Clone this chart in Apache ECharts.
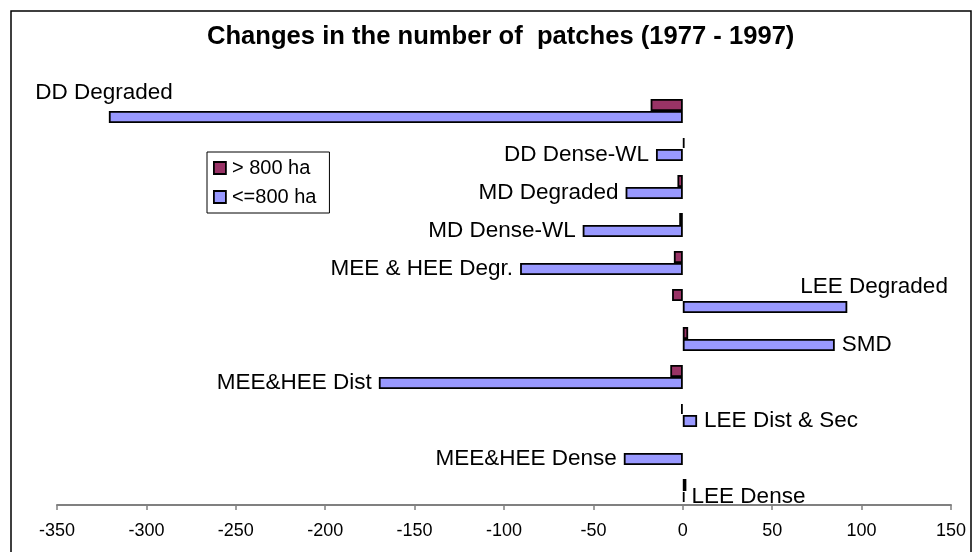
<!DOCTYPE html>
<html>
<head>
<meta charset="utf-8">
<script src="https://cdn.jsdelivr.net/npm/echarts@6/dist/echarts.min.js"></script>
<style>
  html, body { margin: 0; padding: 0; background: #fff; }
  #main { width: 977px; height: 552px; }
</style>
</head>
<body>
<div id="main"></div>
<script>
// categories from top to bottom
var categories = ['DD Degraded', 'DD Dense-WL', 'MD Degraded', 'MD Dense-WL', 'MEE & HEE Degr.',
  'LEE Degraded', 'SMD', 'MEE&HEE Dist', 'LEE Dist & Sec', 'MEE&HEE Dense', 'LEE Dense'];
var over800 = [-18, 1, -3, -2, -5, -6, 3, -7, -1, null, 2];
var under800 = [-321, -15, -32, -56, -91, 92, 85, -170, 8, -33, 1];
var xTicks = [-350, 150, 50]; // min, max, step

// a couple of labels were moved by hand in the original
var labelShift = {
  'DD Degraded': [71, -24],
  'LEE Degraded': [-54, -20]
};

var font = '"Liberation Sans", Arial, sans-serif';

var underData = under800.map(function (v, i) {
  var name = categories[i];
  return {
    value: v,
    label: {
      show: true,
      position: v < 0 ? 'left' : 'right',
      offset: labelShift[name] || [0, 0]
    }
  };
});

var option = {
  animation: false,
  title: {
    text: 'Changes in the number of  patches (1977 - 1997)',
    left: 207,
    top: 24,
    padding: 0,
    textStyle: { fontFamily: font, fontSize: 25.6, fontWeight: 'bold', color: '#000' }
  },
  legend: {
    data: ['> 800 ha', '<=800 ha'],
    orient: 'vertical',
    left: 207,
    top: 152,
    padding: [6, 13, 6, 6],
    itemGap: 9,
    itemWidth: 12,
    itemHeight: 12,
    itemStyle: { borderColor: '#000', borderWidth: 1.8 },
    borderColor: '#000',
    borderWidth: 1,
    icon: 'rect',
    textStyle: { fontFamily: font, fontSize: 20, color: '#000', padding: [0, 0, 0, 1] }
  },
  graphic: [{
    type: 'rect',
    shape: { x: 11, y: 11, width: 960, height: 600 },
    style: { fill: 'none', stroke: '#000', lineWidth: 1.5 },
    silent: true
  }],
  grid: { left: 57, right: 26, top: 87, bottom: 47 },
  xAxis: {
    type: 'value',
    min: xTicks[0],
    max: xTicks[1],
    interval: xTicks[2],
    axisLine: { show: true, lineStyle: { color: '#808080', width: 2 } },
    axisTick: { show: true, length: 5, lineStyle: { color: '#808080', width: 1.5 } },
    splitLine: { show: false },
    axisLabel: { fontFamily: font, fontSize: 18, color: '#000', margin: 17 }
  },
  yAxis: {
    type: 'category',
    data: categories,
    inverse: true,
    axisLine: { show: false },
    axisTick: { show: false },
    axisLabel: { show: false }
  },
  series: [
    {
      // empty slot so the bar pair sits a little low in each band, as in the original
      name: 'spacer',
      type: 'bar',
      data: [],
      barWidth: 10,
      barGap: '0%',
      silent: true
    },
    {
      name: '> 800 ha',
      type: 'bar',
      data: over800,
      barWidth: 12,
      barGap: '0%',
      itemStyle: { color: '#993366', borderColor: '#000', borderWidth: 1.8 }
    },
    {
      name: '<=800 ha',
      type: 'bar',
      data: underData,
      barWidth: 12,
      barGap: '0%',
      itemStyle: { color: '#9999FF', borderColor: '#000', borderWidth: 1.8 },
      label: {
        formatter: '{b}',
        distance: 7,
        fontFamily: font,
        fontSize: 22.5,
        color: '#000'
      }
    }
  ]
};

var myChart = echarts.init(document.getElementById('main'));
myChart.setOption(option);
</script>
</body>
</html>
